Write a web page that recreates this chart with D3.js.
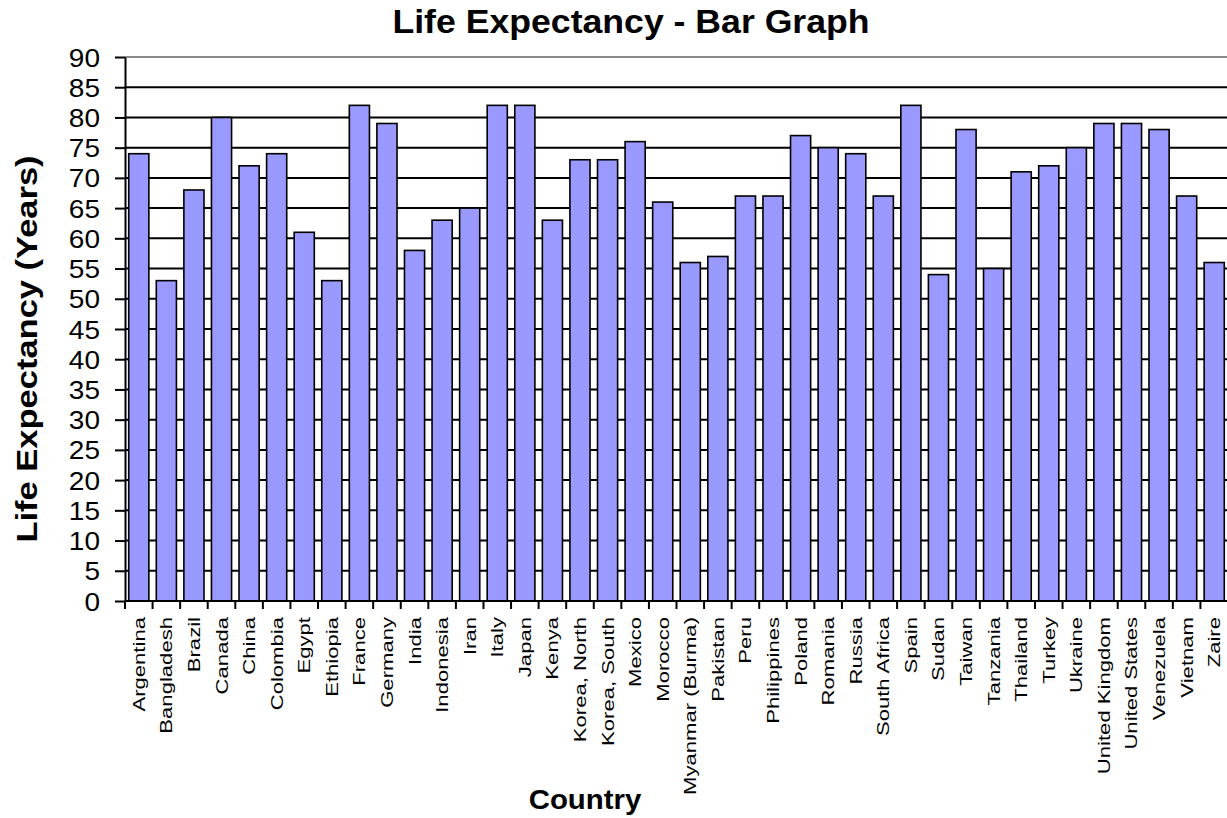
<!DOCTYPE html>
<html>
<head>
<meta charset="utf-8">
<script src="https://cdn.jsdelivr.net/npm/d3@7"></script>
<style>
  html, body { margin: 0; padding: 0; background: #fff; }
  svg { display: block; font-family: "Liberation Sans", Arial, sans-serif; }
</style>
</head>
<body>
<svg id="chart" width="1227" height="818"></svg>
<script>
// Life expectancy by country (years)
const countries = [
  "Argentina", "Bangladesh", "Brazil", "Canada", "China", "Colombia", "Egypt",
  "Ethiopia", "France", "Germany", "India", "Indonesia", "Iran", "Italy", "Japan",
  "Kenya", "Korea, North", "Korea, South", "Mexico", "Morocco", "Myanmar (Burma)",
  "Pakistan", "Peru", "Philippines", "Poland", "Romania", "Russia", "South Africa",
  "Spain", "Sudan", "Taiwan", "Tanzania", "Thailand", "Turkey", "Ukraine",
  "United Kingdom", "United States", "Venezuela", "Vietnam", "Zaire"
];
const lifeExpectancy = [
  74, 53, 68, 80, 72, 74, 61,
  53, 82, 79, 58, 63, 65, 82, 82,
  63, 73, 73, 76, 66, 56,
  57, 67, 67, 77, 75, 74, 67,
  82, 54, 78, 55, 71, 72, 75,
  79, 79, 78, 67, 56
];
const yTicks = [0, 5, 10, 15, 20, 25, 30, 35, 40, 45, 50, 55, 60, 65, 70, 75, 80, 85, 90];

const svg = d3.select("#chart");
const plot = { left: 125, right: 1228, top: 57, bottom: 601 };
const gap = 0.27;

const x = d3.scaleBand()
  .domain(countries)
  .range([plot.left, plot.right])
  .paddingInner(gap)
  .paddingOuter(gap / 2);

const y = d3.scaleLinear()
  .domain([0, 90])
  .range([plot.bottom, plot.top]);

// Horizontal gridlines
svg.append("g")
  .selectAll("line")
  .data(yTicks.filter(t => t > 0))
  .join("line")
  .attr("x1", plot.left)
  .attr("x2", plot.right)
  .attr("y1", d => y(d))
  .attr("y2", d => y(d))
  .attr("stroke", d => d === 90 ? "#8a8a8a" : "#000")
  .attr("stroke-width", 2);

// Bars
svg.append("g")
  .selectAll("rect")
  .data(countries.map((c, i) => ({ c, v: lifeExpectancy[i] })))
  .join("rect")
  .attr("x", d => x(d.c))
  .attr("y", d => y(d.v))
  .attr("width", x.bandwidth())
  .attr("height", d => y(0) - y(d.v))
  .attr("fill", "#9999ff")
  .attr("stroke", "#000")
  .attr("stroke-width", 1.6);

// Y axis
const yAxis = svg.append("g")
  .attr("transform", `translate(${plot.left},0)`)
  .call(d3.axisLeft(y).tickValues(yTicks).tickSize(10).tickPadding(0).tickSizeOuter(0));
yAxis.select(".domain").attr("stroke", "#000").attr("stroke-width", 2);
yAxis.selectAll(".tick line").attr("stroke", "#000").attr("stroke-width", 2);
yAxis.selectAll(".tick text")
  .attr("x", null).attr("dy", null)
  .attr("font-size", 25)
  .attr("fill", "#000")
  .attr("text-anchor", "end")
  .attr("transform", "translate(-25,9) scale(1.12,1)");

// X axis line
svg.append("line")
  .attr("x1", plot.left).attr("x2", plot.right)
  .attr("y1", plot.bottom).attr("y2", plot.bottom)
  .attr("stroke", "#000").attr("stroke-width", 2);

// Category boundary ticks
svg.append("g")
  .selectAll("line")
  .data(d3.range(countries.length + 1))
  .join("line")
  .attr("x1", i => plot.left + i * x.step())
  .attr("x2", i => plot.left + i * x.step())
  .attr("y1", plot.bottom)
  .attr("y2", plot.bottom + 8)
  .attr("stroke", "#000").attr("stroke-width", 2);

// Category labels (rotated)
svg.append("g")
  .selectAll("text")
  .data(countries)
  .join("text")
  .attr("transform", d => `translate(${x(d) + x.bandwidth() / 2 + 6},617) rotate(-90) scale(1.3,1)`)
  .attr("text-anchor", "end")
  .attr("font-size", 17)
  .attr("fill", "#000")
  .text(d => d);

// Title
svg.append("text")
  .attr("transform", "translate(631,33) scale(1.08,1)")
  .attr("text-anchor", "middle")
  .attr("font-size", 33)
  .attr("font-weight", "bold")
  .text("Life Expectancy - Bar Graph");

// Y axis title
svg.append("text")
  .attr("transform", "translate(37,349) rotate(-90) scale(1.15,1)")
  .attr("text-anchor", "middle")
  .attr("font-size", 30)
  .attr("font-weight", "bold")
  .text("Life Expectancy (Years)");

// X axis title
svg.append("text")
  .attr("transform", "translate(585,809) scale(1.05,1)")
  .attr("text-anchor", "middle")
  .attr("font-size", 28)
  .attr("font-weight", "bold")
  .text("Country");
</script>
</body>
</html>
